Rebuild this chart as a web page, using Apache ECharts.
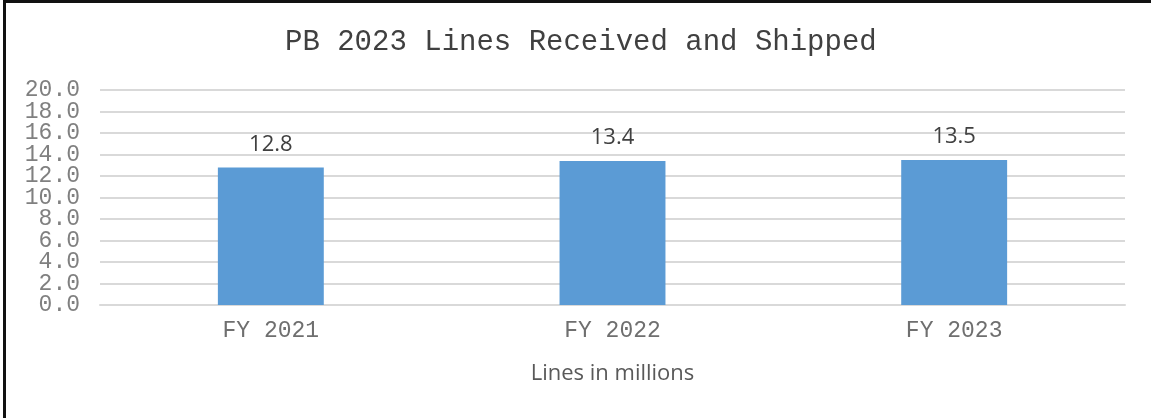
<!DOCTYPE html>
<html>
<head>
<meta charset="utf-8">
<script src="https://cdn.jsdelivr.net/npm/echarts@6/dist/echarts.min.js"></script>
<style>
html,body{margin:0;padding:0;background:#fff;}
#chart{width:1151px;height:418px;}
</style>
</head>
<body>
<div id="chart"></div>
<script>
const categories = ['FY 2021', 'FY 2022', 'FY 2023'];
const values = [12.8, 13.4, 13.5];
const titleText = 'PB 2023 Lines Received and Shipped';
const axisTitle = 'Lines in millions';

const labelBase = {fontFamily: 'Liberation Mono', fontSize: 23, color: '#808080', margin: 20};
function yAxisDef(showFn, withGrid) {
  return {
    type: 'value',
    min: 0,
    max: 20,
    interval: 2,
    position: 'left',
    axisLine: {show: false},
    axisTick: {show: false},
    splitLine: {show: withGrid, lineStyle: {color: '#d9d9d9', width: 2}},
    axisLabel: Object.assign({}, labelBase, {
      formatter: v => (showFn(Math.round(v)) ? v.toFixed(1) : '')
    })
  };
}

const chart = echarts.init(document.getElementById('chart'));
chart.setOption({
  animation: false,
  backgroundColor: '#fff',
  title: {
    text: titleText,
    left: 280,
    top: 23,
    textStyle: {fontFamily: 'Liberation Mono', fontSize: 29, fontWeight: 'normal', color: '#404040'}
  },
  graphic: [
    {type: 'rect', shape: {x: 3, y: 0, width: 3, height: 418}, style: {fill: '#111'}, z: 100},
    {type: 'rect', shape: {x: 3, y: 0, width: 1148, height: 3}, style: {fill: '#111'}, z: 100}
  ],
  grid: {left: 100, right: 26, top: 90, bottom: 113},
  xAxis: {
    type: 'category',
    data: categories,
    axisTick: {show: false},
    axisLine: {lineStyle: {color: '#d9d9d9', width: 2}},
    axisLabel: {fontFamily: 'Liberation Mono', fontSize: 23, color: '#6f6f6f', margin: 14},
    name: axisTitle,
    nameLocation: 'middle',
    nameGap: 58,
    nameTextStyle: {fontFamily: 'Open Sans', fontSize: 22, color: '#595959'}
  },
  yAxis: [
    yAxisDef(v => v % 4 === 0, true),
    yAxisDef(v => v % 4 === 2, false)
  ],
  series: [{
    type: 'bar',
    data: values,
    yAxisIndex: 0,
    barWidth: '31%',
    itemStyle: {color: '#5b9bd5'},
    label: {
      show: true,
      position: 'top',
      distance: 12,
      fontFamily: 'Open Sans',
      fontSize: 22,
      color: '#404040',
      formatter: p => p.value.toFixed(1)
    }
  }]
});
</script>
</body>
</html>
